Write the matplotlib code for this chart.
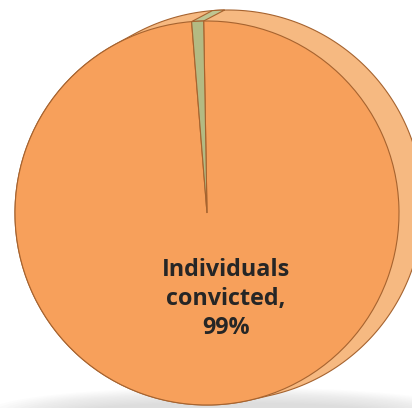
import numpy as np
import matplotlib
matplotlib.use("Agg")
import matplotlib.pyplot as plt
from matplotlib.patches import Ellipse, Polygon

labels = ["Individuals convicted", "Other"]
values = [99, 1]
front_colors = ["#F7A05B", "#B3BA83"]
side_colors = ["#F6B981", "#BFC692"]
edge = "#A6632F"

W, H = 412, 408
fig = plt.figure(figsize=(W / 100, H / 100), dpi=100)
ax = fig.add_axes([0, 0, 1, 1])

# fake 3d pie: front face + back face (pixel units, y up)
cx, cy, r = 207, H - 213, 192
bx, by, rb = 228, H - 205, 195


def hull(pts):
    pts = sorted(map(tuple, pts))
    def half(seq):
        out = []
        for p in seq:
            while len(out) >= 2 and ((out[-1][0] - out[-2][0]) * (p[1] - out[-2][1])
                                     - (out[-1][1] - out[-2][1]) * (p[0] - out[-2][0])) <= 0:
                out.pop()
            out.append(p)
        return out
    lo, up = half(pts), half(pts[::-1])
    return lo[:-1] + up[:-1]


t = np.linspace(0, 2 * np.pi, 400, endpoint=False)
pts = np.vstack([np.c_[cx + r * np.cos(t), cy + r * np.sin(t)],
                 np.c_[bx + rb * np.cos(t), by + rb * np.sin(t)]])

# soft shadow under the pie
for i in range(14):
    ax.add_patch(Ellipse((228, -4), 480 - i * 14, 50 - i * 2.4,
                         color="#9a9a9a", alpha=0.022, lw=0, zorder=0))

ax.add_patch(Polygon(hull(pts), closed=True, facecolor=side_colors[0],
                     edgecolor=edge, lw=0.8, zorder=1))

# side strip of the small slice
start = 91
total = sum(values)
a0 = start
a1 = start + 360 * values[1] / total
th = np.radians(np.linspace(a0, a1, 20))
front_arc = np.c_[cx + r * np.cos(th), cy + r * np.sin(th)]
back_arc = np.c_[bx + rb * np.cos(th), by + rb * np.sin(th)][::-1]
ax.add_patch(Polygon(np.vstack([front_arc, back_arc]), closed=True,
                     facecolor=side_colors[1], edgecolor=edge, lw=0.8, zorder=2))

# front face
wedges, _ = ax.pie(values, colors=front_colors, startangle=start, counterclock=False,
                   center=(cx, cy), radius=r,
                   wedgeprops=dict(edgecolor=edge, linewidth=0.8))
for w in wedges:
    w.set_zorder(3)

ax.text(226, H - 299, "Individuals\nconvicted,\n99%", ha="center", va="center",
        fontsize=16.8, fontweight="bold", family=["Open Sans", "DejaVu Sans"],
        color="#262626", linespacing=1.28, zorder=4)

ax.set_xlim(0, W)
ax.set_ylim(0, H)
ax.set_aspect("auto")
ax.set_axis_off()
fig.savefig("out.png", dpi=100)
